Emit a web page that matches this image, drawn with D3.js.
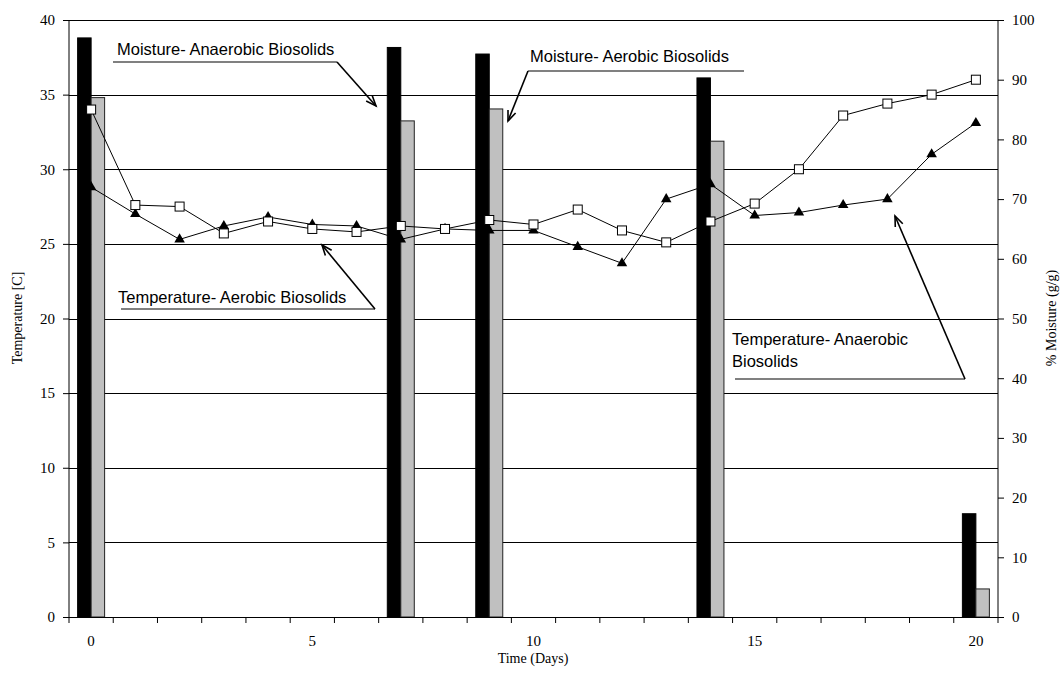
<!DOCTYPE html>
<html>
<head>
<meta charset="utf-8">
<script src="https://cdn.jsdelivr.net/npm/d3@7"></script>
<style>
  html, body { margin: 0; padding: 0; background: #fff; }
  svg { display: block; }
</style>
</head>
<body>
<svg id="chart" width="1063" height="683"></svg>
<script>
// ---------------- data ----------------
const days = [0,1,2,3,4,5,6,7,8,9,10,11,12,13,14,15,16,17,18,19,20];
const dayLabels = [0,5,10,15,20];
const tempAerobic   = [34.0,27.6,27.5,25.7,26.5,26.0,25.8,26.2,26.0,26.6,26.3,27.3,25.9,25.1,26.5,27.7,30.0,33.6,34.4,35.0,36.0];
const tempAnaerobic = [28.8,27.0,25.3,26.2,26.8,26.3,26.2,25.3,26.0,25.9,25.9,24.8,23.7,28.0,29.0,26.9,27.1,27.6,28.0,31.0,33.1];
const moistDays = [0,7,9,14,20];
const moistAnaerobic = [97.0,95.4,94.3,90.3,17.3];
const moistAerobic   = [87.0,83.1,85.1,79.7,4.7];
const tempTicks  = [0,5,10,15,20,25,30,35,40];
const moistTicks = [0,10,20,30,40,50,60,70,80,90,100];

// ---------------- layout ----------------
const L = 69, R = 998, T = 20, B = 617;
const serif = "'Liberation Serif','Times New Roman',serif";
const sans  = "'Liberation Sans',Arial,sans-serif";

const svg = d3.select("#chart");

const x = d3.scaleBand().domain(days).range([L, R]).paddingInner(0.39).paddingOuter(0.195);
const xSub = d3.scaleBand().domain(["anaerobic","aerobic"]).range([0, x.bandwidth()]);
const yL = d3.scaleLinear().domain([0,40]).range([B, T]);
const yR = d3.scaleLinear().domain([0,100]).range([B, T]);
const cx = d => x(d) + x.bandwidth()/2;

// gridlines
svg.append("g").selectAll("line").data(tempTicks.filter(t => t > 0)).join("line")
  .attr("x1", L).attr("x2", R)
  .attr("y1", d => Math.round(yL(d)) + 0.5).attr("y2", d => Math.round(yL(d)) + 0.5)
  .attr("stroke", "#000").attr("stroke-width", 1);

// bars
const barData = moistDays.map((d,i) => ({day:d, anaerobic:moistAnaerobic[i], aerobic:moistAerobic[i]}));
const bg = svg.append("g");
barData.forEach(b => {
  bg.append("rect")
    .attr("x", x(b.day) + xSub("anaerobic")).attr("width", xSub.bandwidth())
    .attr("y", yR(b.anaerobic)).attr("height", yR(0) - yR(b.anaerobic))
    .attr("fill", "#000").attr("stroke", "#000").attr("stroke-width", 1);
  bg.append("rect")
    .attr("x", x(b.day) + xSub("aerobic")).attr("width", xSub.bandwidth())
    .attr("y", yR(b.aerobic)).attr("height", yR(0) - yR(b.aerobic))
    .attr("fill", "#c0c0c0").attr("stroke", "#222").attr("stroke-width", 1);
});

// lines
const line = d3.line().x((d,i) => cx(days[i])).y(d => yL(d));
svg.append("path").datum(tempAerobic).attr("d", line)
  .attr("fill", "none").attr("stroke", "#000").attr("stroke-width", 1);
svg.append("path").datum(tempAnaerobic).attr("d", line)
  .attr("fill", "none").attr("stroke", "#000").attr("stroke-width", 1);

// markers
const tri = d3.symbol().type(d3.symbolTriangle).size(48);
svg.append("g").selectAll("path").data(tempAnaerobic).join("path")
  .attr("d", tri)
  .attr("transform", (d,i) => `translate(${cx(days[i])},${yL(d)})`)
  .attr("fill", "#000");
svg.append("g").selectAll("rect").data(tempAerobic).join("rect")
  .attr("x", (d,i) => cx(days[i]) - 4.5).attr("y", d => yL(d) - 4.5)
  .attr("width", 9).attr("height", 9)
  .attr("fill", "#fff").attr("stroke", "#000").attr("stroke-width", 1);

// axes
const gxL = svg.append("g").attr("transform", `translate(${L},0)`)
  .call(d3.axisLeft(yL).tickValues(tempTicks).tickSize(6).tickPadding(6));
const gxR = svg.append("g").attr("transform", `translate(${R},0)`)
  .call(d3.axisRight(yR).tickValues(moistTicks).tickSize(6).tickPadding(6));
[gxL, gxR].forEach(g => {
  g.select(".domain").attr("d", `M0,${T}V${B}`).attr("stroke", "#000");
  g.selectAll(".tick line").attr("stroke", "#000");
  g.selectAll("text").attr("font-family", serif).attr("font-size", 15).attr("fill", "#000");
});
gxL.selectAll("text").attr("dx", -2);
gxR.selectAll("text").attr("dx", 2);

// bottom axis: ticks at category boundaries
const boundaries = days.map(d => x(d) - x.step()*x.paddingInner()/2).concat([R]);
const gB = svg.append("g");
gB.append("line").attr("x1", L).attr("x2", R).attr("y1", B + 0.5).attr("y2", B + 0.5).attr("stroke", "#000");
gB.selectAll("line.t").data(boundaries).join("line").attr("class","t")
  .attr("x1", d => d).attr("x2", d => d).attr("y1", B).attr("y2", B + 6).attr("stroke", "#000");
gB.selectAll("text").data(dayLabels).join("text")
  .attr("x", d => cx(d)).attr("y", 646)
  .attr("text-anchor", "middle")
  .attr("font-family", serif).attr("font-size", 15).text(d => d);

// axis titles
svg.append("text").attr("x", 533).attr("y", 663).attr("text-anchor", "middle")
  .attr("font-family", serif).attr("font-size", 14).text("Time (Days)");
svg.append("text").attr("transform", "translate(22,318) rotate(-90)").attr("text-anchor", "middle")
  .attr("font-family", serif).attr("font-size", 14).text("Temperature [C]");
svg.append("text").attr("transform", "translate(1056,318) rotate(-90)").attr("text-anchor", "middle")
  .attr("font-family", serif).attr("font-size", 14).text("% Moisture (g/g)");

// annotations (callouts)
const notes = [
  {lines:["Moisture- Anaerobic Biosolids"], tx:117, ty:55, ul:[113,337,62], tip:[376,106]},
  {lines:["Moisture- Aerobic Biosolids"], tx:530, ty:62, ul:[528,744,71], tip:[508,121], from:"left"},
  {lines:["Temperature- Aerobic Biosolids"], tx:118, ty:303, ul:[121,375,309], tip:[322,245]},
  {lines:["Temperature- Anaerobic","Biosolids"], tx:732, ty:345, ul:[735,965,379], tip:[895,216]}
];
const ag = svg.append("g");
notes.forEach(n => {
  const t = ag.append("text").attr("font-family", sans).attr("font-size", 16.5).attr("fill", "#000");
  n.lines.forEach((s,i) => t.append("tspan").attr("x", n.tx).attr("y", n.ty + i*21.5).text(s));
  ag.append("line").attr("x1", n.ul[0]).attr("x2", n.ul[1]).attr("y1", n.ul[2]).attr("y2", n.ul[2])
    .attr("stroke", "#808080").attr("stroke-width", 2);
  const sx = n.from === "left" ? n.ul[0] : n.ul[1], sy = n.ul[2];
  const [ex, ey] = n.tip;
  ag.append("line").attr("x1", sx).attr("y1", sy).attr("x2", ex).attr("y2", ey)
    .attr("stroke", "#000").attr("stroke-width", 1.6);
  const ang = Math.atan2(ey - sy, ex - sx), len = 11, wid = 0.38;
  const p1 = [ex - len*Math.cos(ang - wid), ey - len*Math.sin(ang - wid)];
  const p2 = [ex - len*Math.cos(ang + wid), ey - len*Math.sin(ang + wid)];
  ag.append("path").attr("d", `M${p1}L${ex},${ey}L${p2}`)
    .attr("fill", "none").attr("stroke", "#000").attr("stroke-width", 1.6);
});
</script>
</body>
</html>
